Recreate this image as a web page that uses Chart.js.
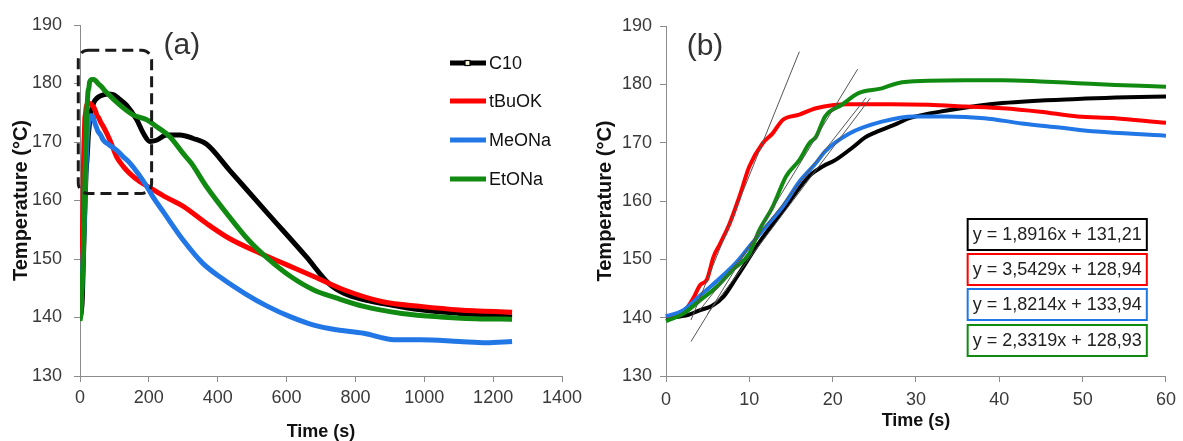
<!DOCTYPE html>
<html lang="en">
<head>
<meta charset="UTF-8" />
<title>Temperature vs time</title>
<style>
  body { margin: 0; background: #fff; }
  .wrap { position: relative; width: 1183px; height: 441px; }
  #chartA { position: absolute; left: 0; top: 0; }
  #chartB { position: absolute; left: 590px; top: 0; }
</style>
</head>
<body>
<div class="wrap">
  <canvas id="chartA" width="590" height="441"></canvas>
  <canvas id="chartB" width="593" height="441"></canvas>
</div>

<script src="https://cdn.jsdelivr.net/npm/chart.js"></script>
<script>
  // series (time in s, temperature in °C)
  const c10Time = [0, 2.7, 4.1, 5.5, 6.9, 8.5, 11.2, 14, 17.2, 18.9, 20.3, 22.5, 23.9, 25.2, 27.8, 29.2, 33.7, 40.4, 49.4, 60, 80, 97, 115, 135, 165, 184, 203, 222, 252, 290, 329, 368, 434, 545, 657, 723, 768, 820, 879, 990, 1102, 1255];
  const c10Temp = [139.9, 140.5, 141.3, 142, 143.6, 147, 152.9, 158.3, 164.3, 166, 167, 169.3, 170.9, 171.8, 173.3, 174.2, 175.5, 176.8, 177.5, 177.9, 178.2, 178.1, 177.3, 176.3, 173.8, 171.5, 170.1, 170.3, 171.2, 171.2, 170.6, 169.6, 165.2, 157.8, 150.4, 145.8, 144.1, 143.1, 142.4, 141.3, 140.7, 140.1];

  const tbuokTime = [0, 2.1, 3.3, 4.1, 4.9, 5.7, 6.5, 7.65, 8.8, 10, 11.6, 12.8, 14, 16, 18, 21.9, 27, 31.5, 36, 40.4, 44.9, 49.4, 53.9, 60, 68, 87, 106, 126, 145, 174, 203, 245, 300, 367, 434, 523, 601, 679, 768, 879, 990, 1102, 1255];
  const tbuokTemp = [140.2, 141, 143.4, 145.6, 146.5, 150.4, 152.7, 156.2, 160.7, 165.9, 169.9, 171.6, 173.9, 174.8, 175.9, 176.6, 176.6, 176.5, 176.2, 175.9, 175.3, 174.5, 174.2, 173.4, 172.6, 170.3, 167.5, 165.8, 164.6, 163.2, 162.2, 160.7, 159, 156.1, 153.5, 151, 149, 147, 144.7, 142.7, 141.9, 141.3, 140.9];

  const meonaTime = [0, 2.1, 4.1, 6.1, 8.45, 10, 12, 14, 16, 18, 19.1, 21.9, 25.9, 29.8, 33.7, 38.2, 42.7, 47.2, 51.7, 60, 68, 85, 106, 125, 145, 170, 194, 211, 245, 300, 356, 412, 479, 545, 612, 679, 746, 824, 913, 990, 1102, 1180, 1255];
  const meonaTemp = [140.2, 141.3, 143.8, 146.3, 149.5, 152.2, 155.6, 159, 163.3, 166.5, 168.5, 171.5, 173.6, 174.5, 174.5, 174.2, 173.3, 172.6, 171.9, 171.2, 170.3, 169.5, 168.6, 167.5, 166.4, 164.5, 162.4, 160.7, 157.8, 153.2, 149.3, 146.7, 144.1, 141.9, 140.1, 138.7, 137.9, 137.3, 136.2, 136.2, 135.9, 135.7, 135.9];

  const etonaTime = [0, 2.1, 4.1, 6.1, 8, 10, 11.2, 12.8, 14.4, 16, 17.2, 18, 19.1, 21.1, 23.1, 25.9, 27.8, 31.5, 36, 40.4, 44.9, 49.4, 53.9, 60, 78, 116, 155, 194, 223, 261, 300, 323, 367, 434, 490, 545, 612, 679, 746, 824, 935, 1046, 1150, 1255];
  const etonaTemp = [139.4, 140.7, 143, 145.3, 148.2, 151, 155, 159, 164.2, 167, 169.9, 171, 174.5, 176.5, 178.5, 179.3, 180.2, 180.6, 180.7, 180.7, 180.5, 180.2, 179.9, 179.6, 178.4, 176.3, 174.6, 173.8, 172.6, 170.9, 168, 166.4, 162.4, 157.2, 153.2, 150.1, 147, 144.7, 143.3, 141.9, 140.7, 140.1, 139.8, 139.7];

  // fitted tangent lines in panel (b): end points
  const tanC10Time = [5, 24.5],   tanC10Temp = [140.7, 177.6];
  const tanTbuokTime = [3, 16],   tanTbuokTemp = [139.6, 185.6];
  const tanMeonaTime = [4, 24],   tanMeonaTemp = [141.2, 177.7];
  const tanEtonaTime = [3, 23],   tanEtonaTemp = [135.9, 182.6];

  const seriesNames = ["C10", "tBuOK", "MeONa", "EtONa"];
  const seriesColors = ["#000000", "#ff0000", "#2277e6", "#108a10"];
  const equations = ["y = 1,8916x + 131,21", "y = 3,5429x + 128,94", "y = 1,8214x + 133,94", "y = 2,3319x + 128,93"];

  const FONT = "'Liberation Sans', Arial, sans-serif";
  Chart.defaults.font.family = FONT;

  function pts(ts, vs) {
    return ts.map((t, i) => ({ x: t, y: vs[i] }));
  }

  function curve(label, ts, vs, color, width) {
    return {
      label: label,
      data: pts(ts, vs),
      borderColor: color,
      backgroundColor: color,
      borderWidth: width,
      pointRadius: 0,
      cubicInterpolationMode: "monotone",
    };
  }

  function tangent(ts, vs) {
    return {
      label: "fit",
      data: pts(ts, vs),
      borderColor: "#555",
      borderWidth: 1,
      pointRadius: 0,
    };
  }

  function axes(xMax, xStep, o) {
    return {
      x: {
        type: "linear",
        min: 0, max: xMax,
        ticks: { stepSize: xStep, font: { size: 18 }, color: "#3a3a3a", padding: o.xPad, maxRotation: 0, callback: (v) => String(v) },
        grid: { drawOnChartArea: false, tickLength: 6, color: "#8c8c8c" },
        border: { color: "#8c8c8c" },
        title: { display: true, text: "Time (s)", color: "#111", font: { size: 18, weight: "bold", lineHeight: 1 }, padding: { top: 0, bottom: o.xTitleBottom } },
        afterFit: (s) => { s.height = 65; },
      },
      y: {
        min: 130, max: 190,
        ticks: { stepSize: 10, font: { size: 18 }, color: "#3a3a3a", padding: o.yPad, callback: (v) => String(v) },
        grid: { drawOnChartArea: false, tickLength: 6, color: "#8c8c8c" },
        border: { color: "#8c8c8c" },
        title: { display: true, text: "Temperature (°C)", color: "#111", font: { size: 20, weight: "bold", lineHeight: 1 }, padding: { top: o.yTitleLeft, bottom: 0 } },
        afterFit: (s) => { s.width = o.yWidth; },
      },
    };
  }

  // panel (a) decorations: dashed zoom box, "(a)" label, legend
  const decorA = {
    id: "decorA",
    afterDatasetsDraw(chart) {
      const { ctx, scales: { x, y } } = chart;
      ctx.save();
      // dashed box around the first 200 s
      const bx0 = x.getPixelForValue(-5), bx1 = x.getPixelForValue(208);
      const by0 = y.getPixelForValue(185.7), by1 = y.getPixelForValue(161.2);
      ctx.setLineDash([11, 6]);
      ctx.lineWidth = 3;
      ctx.strokeStyle = "#1a1a1a";
      ctx.beginPath();
      ctx.roundRect(bx0, by0, bx1 - bx0, by1 - by0, 10);
      ctx.stroke();
      ctx.setLineDash([]);

      ctx.fillStyle = "#333";
      ctx.font = "30px " + FONT;
      ctx.textAlign = "center";
      ctx.textBaseline = "middle";
      ctx.fillText("(a)", x.getPixelForValue(296), y.getPixelForValue(186.4));

      // legend
      const lx0 = 450, lx1 = 486;
      const ly = [63, 101, 140, 179];
      ctx.font = "18px " + FONT;
      ctx.textAlign = "left";
      seriesNames.forEach((name, i) => {
        ctx.strokeStyle = seriesColors[i];
        ctx.lineWidth = 5;
        ctx.beginPath();
        ctx.moveTo(lx0, ly[i]);
        ctx.lineTo(lx1, ly[i]);
        ctx.stroke();
        if (i === 0) {
          ctx.fillStyle = "#ffffdd";
          ctx.strokeStyle = "#000";
          ctx.lineWidth = 1.2;
          ctx.fillRect(465, ly[i] - 2.5, 5, 5);
          ctx.strokeRect(465, ly[i] - 2.5, 5, 5);
        }
        ctx.fillStyle = "#111";
        ctx.fillText(name, 489, ly[i] + 1);
      });
      ctx.restore();
    },
  };

  // panel (b) decorations: "(b)" label, equation boxes
  const decorB = {
    id: "decorB",
    afterDatasetsDraw(chart) {
      const { ctx, scales: { x, y } } = chart;
      ctx.save();
      ctx.fillStyle = "#333";
      ctx.font = "30px " + FONT;
      ctx.textAlign = "center";
      ctx.textBaseline = "middle";
      ctx.fillText("(b)", x.getPixelForValue(4.68), y.getPixelForValue(186.4));

      const ex0 = x.getPixelForValue(36.2), ex1 = x.getPixelForValue(57.7);
      const tops = [219, 254, 289, 325];
      ctx.font = "18px " + FONT;
      equations.forEach((eq, i) => {
        ctx.fillStyle = "#fff";
        ctx.fillRect(ex0, tops[i], ex1 - ex0, 31);
        ctx.strokeStyle = seriesColors[i];
        ctx.lineWidth = 2;
        ctx.strokeRect(ex0, tops[i], ex1 - ex0, 31);
        ctx.fillStyle = "#222";
        ctx.fillText(eq, (ex0 + ex1) / 2, tops[i] + 16);
      });
      ctx.restore();
    },
  };

  new Chart(document.getElementById("chartA"), {
    type: "line",
    data: {
      datasets: [
        curve("EtONa", etonaTime, etonaTemp, seriesColors[3], 5),
        curve("MeONa", meonaTime, meonaTemp, seriesColors[2], 5),
        curve("tBuOK", tbuokTime, tbuokTemp, seriesColors[1], 5),
        curve("C10", c10Time, c10Temp, seriesColors[0], 5),
      ],
    },
    options: {
      responsive: false,
      animation: false,
      layout: { padding: { left: 0, right: 28, top: 25, bottom: 0 } },
      plugins: { legend: { display: false }, tooltip: { enabled: false } },
      scales: axes(1400, 200, { xPad: 5, xTitleBottom: 0, yPad: 12, yTitleLeft: 11, yWidth: 80 }),
    },
    plugins: [decorA],
  });

  const clipB = { left: 3, top: 3, right: 0, bottom: 3 };
  new Chart(document.getElementById("chartB"), {
    type: "line",
    data: {
      datasets: [
        tangent(tanC10Time, tanC10Temp),
        tangent(tanTbuokTime, tanTbuokTemp),
        tangent(tanMeonaTime, tanMeonaTemp),
        tangent(tanEtonaTime, tanEtonaTemp),
        Object.assign(curve("EtONa", etonaTime, etonaTemp, seriesColors[3], 4), { clip: clipB }),
        Object.assign(curve("MeONa", meonaTime, meonaTemp, seriesColors[2], 4), { clip: clipB }),
        Object.assign(curve("tBuOK", tbuokTime, tbuokTemp, seriesColors[1], 4), { clip: clipB }),
        Object.assign(curve("C10", c10Time, c10Temp, seriesColors[0], 4), { clip: clipB }),
      ],
    },
    options: {
      responsive: false,
      animation: false,
      layout: { padding: { left: 0, right: 12, top: 26, bottom: 0 } },
      plugins: { legend: { display: false }, tooltip: { enabled: false } },
      scales: axes(60, 10, { xPad: 7, xTitleBottom: 11, yPad: 8, yTitleLeft: 5, yWidth: 76 }),
    },
    plugins: [decorB],
  });
</script>
</body>
</html>
